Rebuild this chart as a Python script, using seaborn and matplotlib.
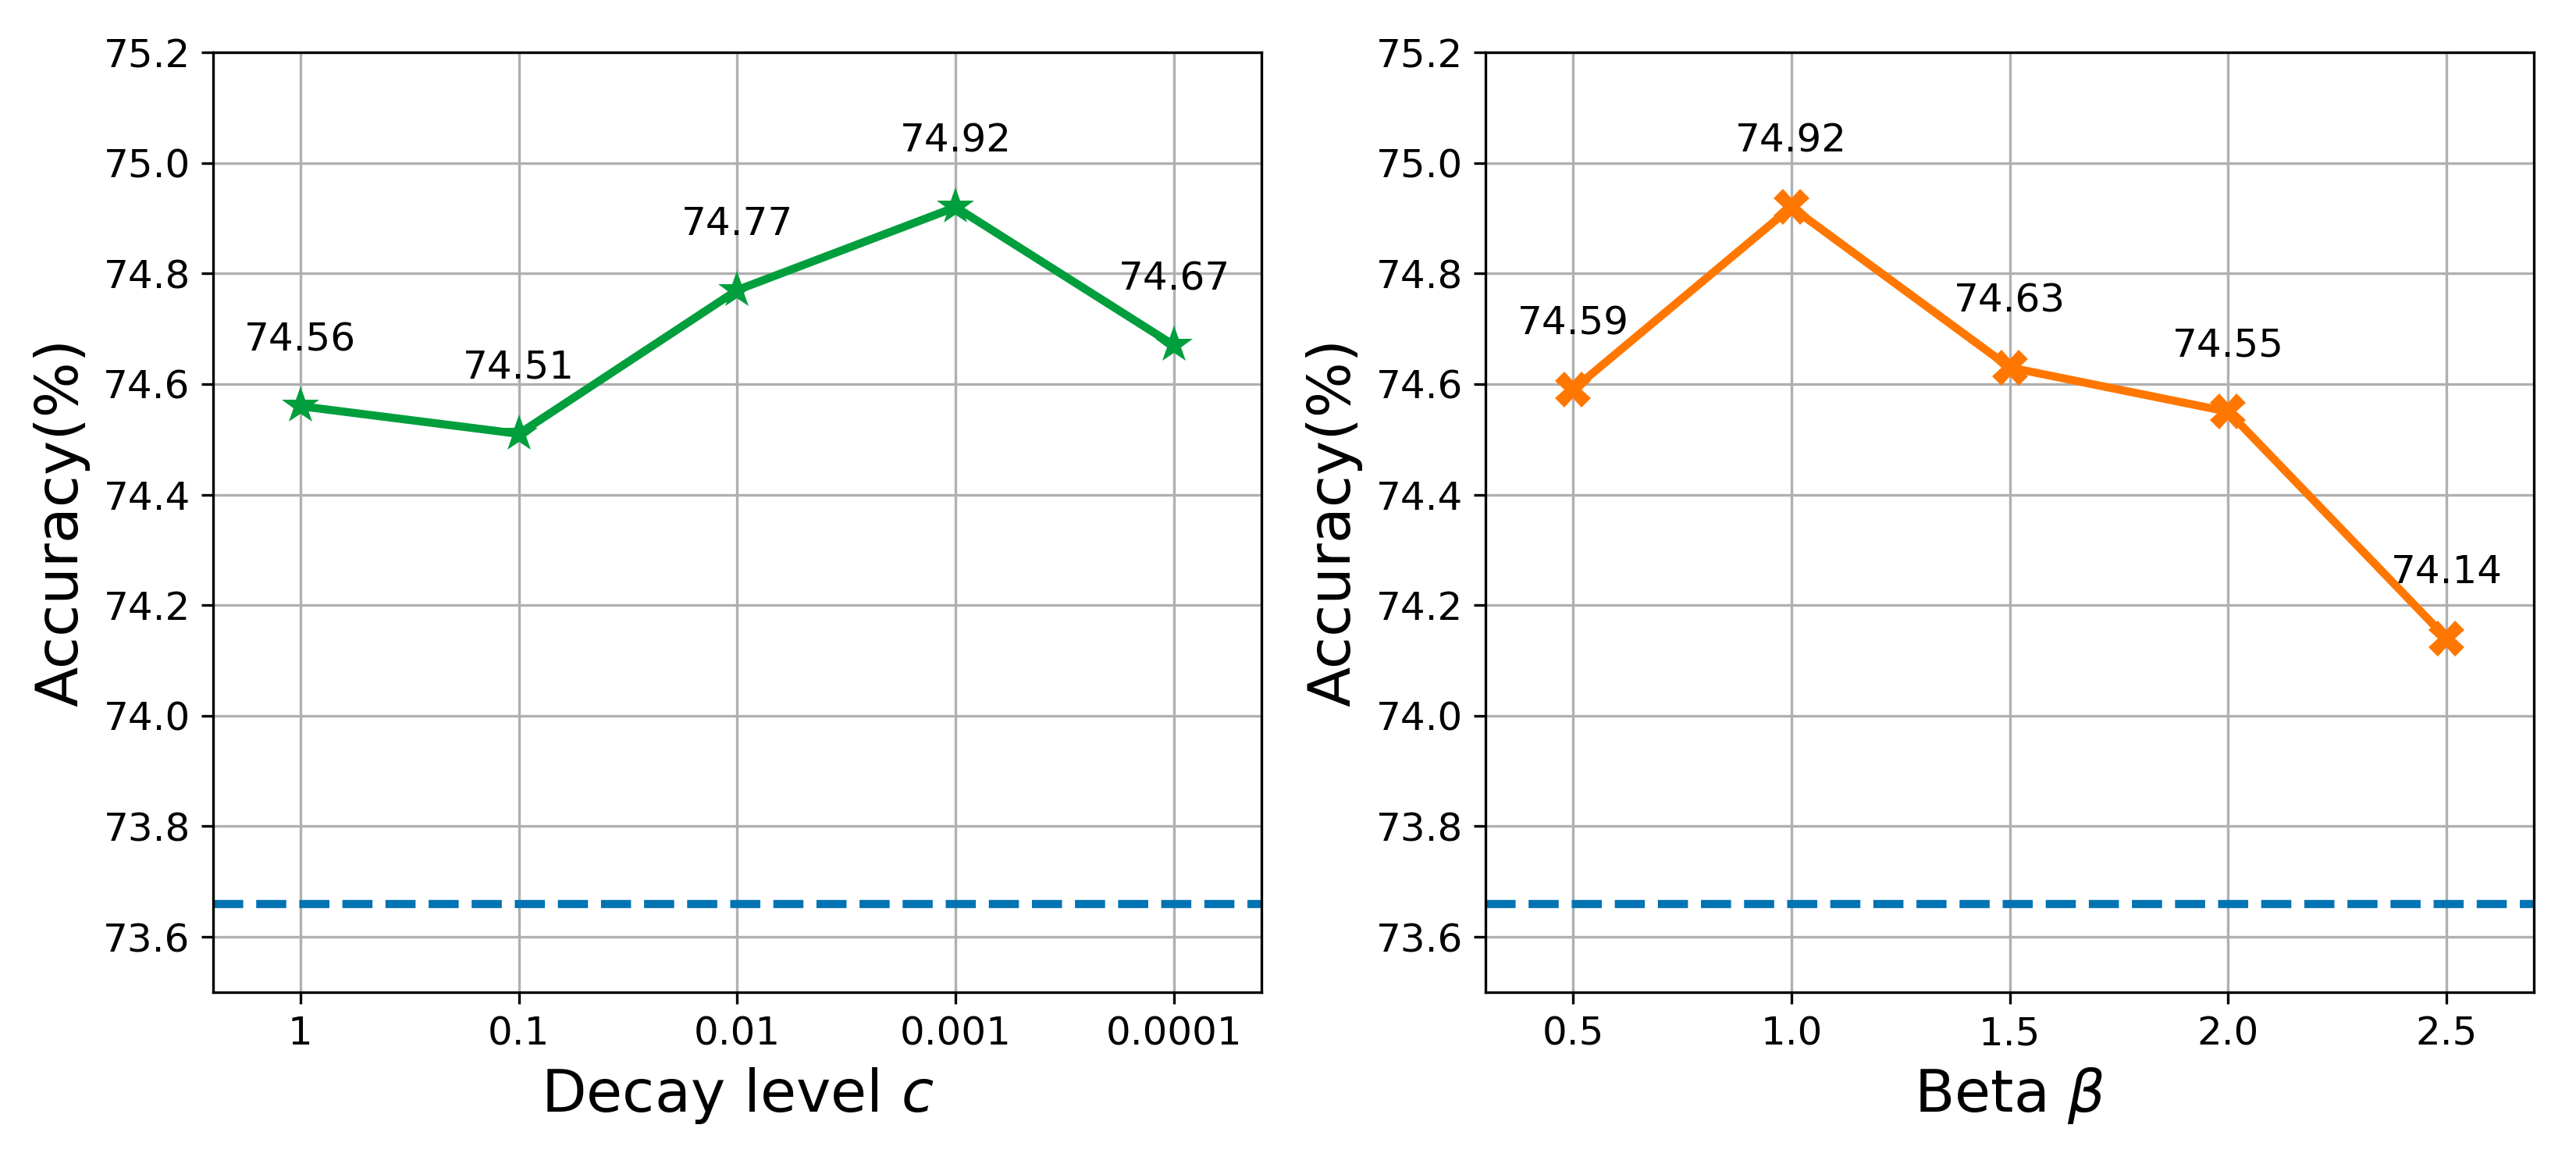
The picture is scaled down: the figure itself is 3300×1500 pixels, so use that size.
import matplotlib
matplotlib.use("Agg")
import matplotlib.pyplot as plt
import seaborn as sns
import numpy as np

# Data
decay_labels = ["1", "0.1", "0.01", "0.001", "0.0001"]
decay_acc = [74.56, 74.51, 74.77, 74.92, 74.67]
beta_values = [0.5, 1.0, 1.5, 2.0, 2.5]
beta_acc = [74.59, 74.92, 74.63, 74.55, 74.14]
baseline_acc = 73.66
y_ticks = [73.6, 73.8, 74.0, 74.2, 74.4, 74.6, 74.8, 75.0, 75.2]

plt.rcParams['font.family'] = ['DejaVu Sans']

fig = plt.figure(figsize=(11, 5), dpi=300)
ax1 = fig.add_axes([0.0827, 0.1527, 0.4070, 0.8026])
ax2 = fig.add_axes([0.5767, 0.1527, 0.4070, 0.8026])

green = '#009e3c'
orange = '#ff7700'
blue = '#0173b2'

decay_pos = list(range(len(decay_labels)))

sns.lineplot(x=decay_pos, y=decay_acc, ax=ax1, color=green, lw=2.5,
             marker='*', markersize=12, markeredgewidth=0, markeredgecolor=green)
sns.lineplot(x=beta_values, y=beta_acc, ax=ax2, color=orange, lw=2.5,
             marker='X', markersize=11, markeredgewidth=0, markeredgecolor=orange)

for ax in (ax1, ax2):
    ax.axhline(baseline_acc, ls='--', color=blue, lw=2.5)
    ax.set_ylim(73.5, 75.2)
    ax.set_yticks(y_ticks)
    ax.set_yticklabels([f"{t:.1f}" for t in y_ticks])
    ax.grid(True, color='#b0b0b0', lw=0.8)
    ax.tick_params(labelsize=12)
    ax.set_ylabel("Accuracy(%)", fontsize=18)
    for s in ax.spines.values():
        s.set_color('black')

for x, y in zip(decay_pos, decay_acc):
    ax1.text(x, y + 0.1, f"{y:.2f}", ha='center', va='baseline', fontsize=12)
for x, y in zip(beta_values, beta_acc):
    ax2.text(x, y + 0.1, f"{y:.2f}", ha='center', va='baseline', fontsize=12)

ax1.set_xlim(-0.4, 4.4)
ax1.set_xticks(decay_pos)
ax1.set_xticklabels(decay_labels)
ax1.set_xlabel("Decay level $c$", fontsize=18)

ax2.set_xlim(0.3, 2.7)
ax2.set_xticks(beta_values)
ax2.set_xticklabels([f"{b:.1f}" for b in beta_values])
ax2.set_xlabel(r"Beta $\beta$", fontsize=18)

fig.savefig("out.png", dpi=300)
